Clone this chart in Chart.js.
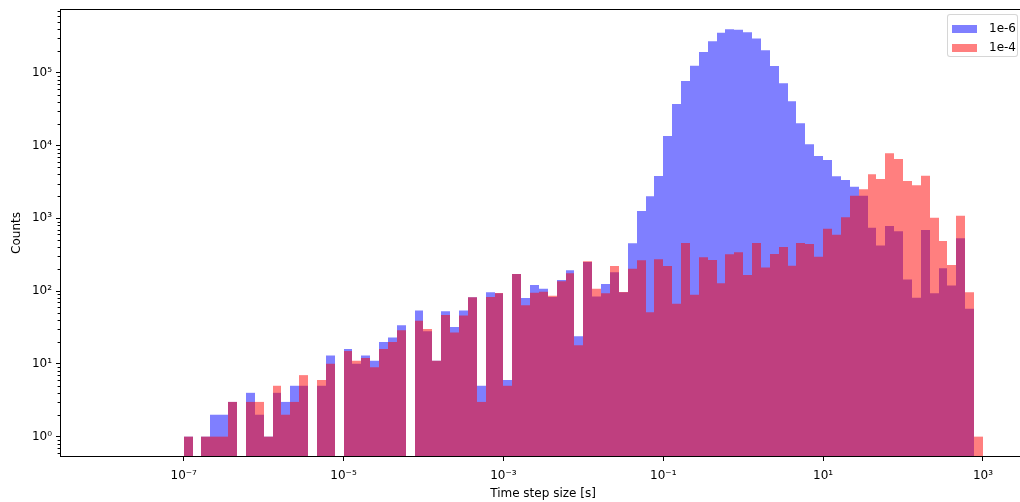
<!DOCTYPE html>
<html>
<head>
<meta charset="utf-8">
<script src="https://cdn.jsdelivr.net/npm/chart.js@4.4.1/dist/chart.umd.min.js"></script>
<style>
  html, body { margin: 0; padding: 0; background: #fff; overflow: hidden; }
  #wrap { position: relative; width: 1026px; height: 502px; }
  #legend {
    position: absolute; left: 947px; top: 14px; width: 69px; height: 41px;
    border: 1px solid rgba(204, 204, 204, 0.8); border-radius: 3px;
    background: rgba(255, 255, 255, 0.8);
    font-family: "DejaVu Sans", sans-serif; font-size: 12px; color: #000;
  }
  .item { position: absolute; left: 4px; height: 14px; }
  .swatch { position: absolute; left: 0; top: 3px; width: 25px; height: 8px; }
  .item span { position: absolute; left: 37px; top: -1px; white-space: nowrap; }
</style>
</head>
<body>
<div id="wrap">
  <canvas id="chart" width="1026" height="502"></canvas>
  <div id="legend"></div>
</div>
<script>
// histogram bins: 90 log-spaced bins from 1e-7 to 1e3 (9 per decade)
const binStartExp = -7;
const binsPerDecade = 9;
const binCenters = [];
for (let i = 0; i < 90; i++) binCenters.push(Math.pow(10, binStartExp + (i + 0.5) / binsPerDecade));

const seriesLabels = ['1e-6', '1e-4'];
const seriesColors = ['rgba(0, 0, 255, 0.5)', 'rgba(255, 0, 0, 0.5)'];

// counts per bin (0 = empty bin)
const counts1e6 = [
  1, 0, 1, 2, 2, 3, 0, 4, 2, 1,
  4, 3, 5, 5, 0, 5, 13, 0, 16, 10,
  13, 11, 20, 23, 34, 0, 54, 28, 11, 53,
  32, 54, 82, 5, 96, 93, 6, 172, 80, 121,
  108, 83, 142, 193, 24, 250, 84, 125, 181, 96,
  453, 1260, 2000, 3800, 13500, 37000, 77000, 125000, 192000, 270000,
  354000, 394000, 390000, 359000, 296000, 203000, 124000, 71500, 40400, 20200,
  10400, 7170, 6320, 3780, 3360, 2720, 2040, 743, 421, 784,
  662, 144, 81, 690, 93, 206, 119, 531, 57, 0
];
const counts1e4 = [
  1, 0, 1, 1, 1, 3, 0, 3, 3, 1,
  5, 2, 3, 7, 0, 6, 10, 0, 15, 11,
  12, 9, 16, 20, 29, 0, 39, 30, 11, 47,
  27, 46, 82, 3, 83, 94, 5, 172, 64, 95,
  98, 86, 136, 175, 18, 257, 108, 93, 221, 97,
  203, 265, 51, 273, 221, 67, 458, 89, 291, 267,
  128, 320, 341, 166, 458, 210, 323, 403, 223, 458,
  443, 297, 719, 595, 1030, 2040, 2500, 4020, 3470, 7820,
  6530, 3250, 2840, 3850, 1020, 488, 228, 1086, 96, 1
];

const xTickValues = [1e-7, 1e-5, 1e-3, 1e-1, 1e1, 1e3];
const yTickValues = [1, 10, 100, 1e3, 1e4, 1e5];
const xRangeExp = [-8.5476, 3.538];
const yRangeExp = [-0.2797, 5.875];

const SUP = { '-': '⁻', '0': '⁰', '1': '¹', '2': '²', '3': '³', '4': '⁴', '5': '⁵', '6': '⁶', '7': '⁷', '8': '⁸', '9': '⁹' };
function powLabel(v) {
  const e = String(Math.round(Math.log10(v)));
  return '10' + e.split('').map(c => SUP[c]).join('');
}

const toPoints = arr => arr.map((c, i) => ({ x: binCenters[i], y: c > 0 ? c : null }));

const font = { family: 'DejaVu Sans', size: 12 };

function noPad(s) {
  s.paddingTop = 0; s.paddingBottom = 0; s.paddingLeft = 0; s.paddingRight = 0;
}

// snap bar edges to whole pixels so neighbouring bins leave no seams
const snapPlugin = {
  id: 'snap',
  afterDatasetsUpdate(chart) {
    chart.data.datasets.forEach((ds, i) => {
      chart.getDatasetMeta(i).data.forEach(el => {
        const l = Math.round(el.x - el.width / 2);
        const r = Math.round(el.x + el.width / 2);
        el.x = (l + r) / 2;
        el.width = r - l;
      });
    });
  }
};

const framePlugin = {
  id: 'frame',
  afterDraw(chart) {
    const { ctx, chartArea: a, scales: { y } } = chart;
    ctx.save();
    ctx.strokeStyle = '#000';
    ctx.lineWidth = 1;
    // minor y ticks at 2..9 x 10^k
    for (let k = -1; k <= 5; k++) {
      for (let m = 2; m <= 9; m++) {
        const v = m * Math.pow(10, k);
        if (v < y.min || v > y.max) continue;
        const py = Math.round(y.getPixelForValue(v)) + 0.5;
        ctx.beginPath();
        ctx.moveTo(a.left - 2.4, py);
        ctx.lineTo(a.left, py);
        ctx.stroke();
      }
    }
    ctx.strokeRect(a.left + 0.5, a.top + 0.5, a.right - a.left, a.bottom - a.top - 1);
    ctx.restore();
  }
};

const ctx = document.getElementById('chart').getContext('2d');
new Chart(ctx, {
  type: 'bar',
  data: {
    datasets: [
      { label: seriesLabels[0], data: toPoints(counts1e6), backgroundColor: seriesColors[0], order: 2 },
      { label: seriesLabels[1], data: toPoints(counts1e4), backgroundColor: seriesColors[1], order: 1 }
    ]
  },
  options: {
    responsive: false,
    animation: false,
    events: [],
    grouped: false,
    barPercentage: 1,
    categoryPercentage: 1,
    inflateAmount: 0,
    borderWidth: 0,
    layout: { padding: { top: 9, right: 0, bottom: 0, left: 0 } },
    plugins: { legend: { display: false }, tooltip: { enabled: false } },
    scales: {
      x: {
        type: 'logarithmic',
        offset: false,
        min: Math.pow(10, xRangeExp[0]),
        max: Math.pow(10, xRangeExp[1]),
        afterBuildTicks: s => { s.ticks = xTickValues.map(v => ({ value: v })); },
        afterFit: s => { s.height = 45; noPad(s); },
        border: { display: false },
        grid: { offset: false, drawOnChartArea: false, drawTicks: true, tickLength: 4, tickWidth: 1, tickColor: '#000' },
        ticks: { autoSkip: false, maxRotation: 0, padding: 8, color: '#000', font, callback: v => powLabel(v) },
        title: { display: true, text: 'Time step size [s]', color: '#000', font, padding: { top: 0, bottom: 1 } }
      },
      y: {
        type: 'logarithmic',
        min: Math.pow(10, yRangeExp[0]),
        max: Math.pow(10, yRangeExp[1]),
        afterBuildTicks: s => { s.ticks = yTickValues.map(v => ({ value: v })); },
        afterFit: s => { s.width = 60; noPad(s); },
        border: { display: false },
        grid: { drawOnChartArea: false, drawTicks: true, tickLength: 4, tickWidth: 1, tickColor: '#000' },
        ticks: { autoSkip: false, padding: 4, color: '#000', font, callback: v => powLabel(v) },
        title: { display: true, text: 'Counts', color: '#000', font, padding: { top: 10, bottom: 0 } }
      }
    }
  },
  plugins: [snapPlugin, framePlugin]
});

// legend
const legend = document.getElementById('legend');
seriesLabels.forEach((lab, i) => {
  const row = document.createElement('div');
  row.className = 'item';
  row.style.top = (7 + i * 19) + 'px';
  row.innerHTML = '<div class="swatch" style="background:' + seriesColors[i] + '"></div><span>' + lab + '</span>';
  legend.appendChild(row);
});
</script>
</body>
</html>
